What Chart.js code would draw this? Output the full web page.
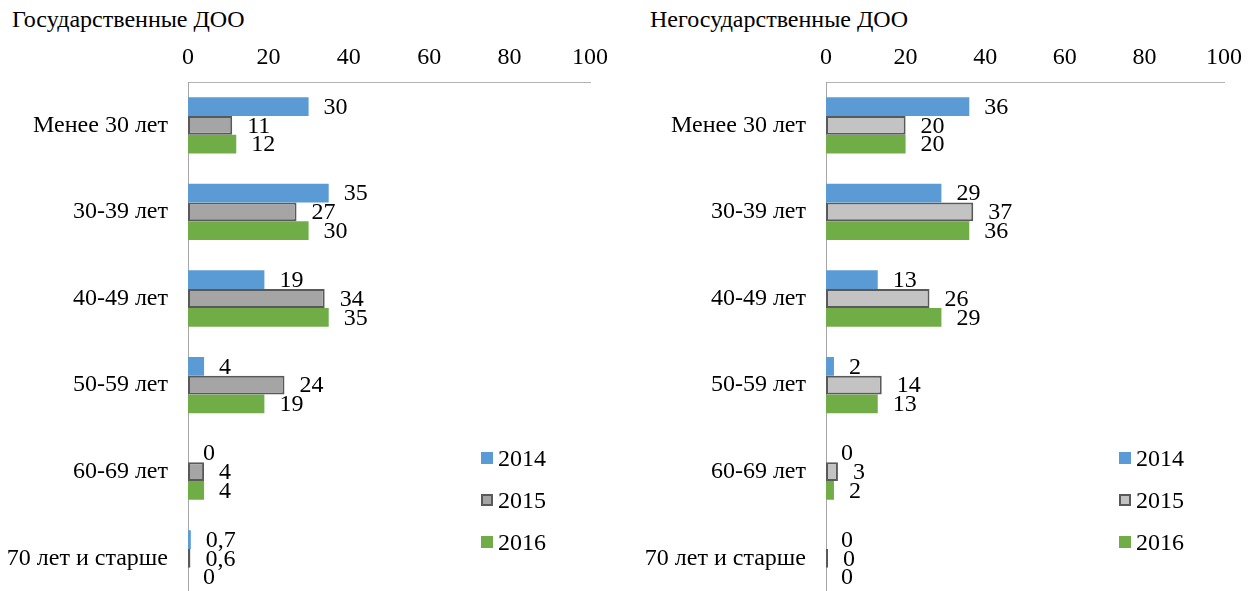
<!DOCTYPE html>
<html>
<head>
<meta charset="utf-8">
<script src="https://cdn.jsdelivr.net/npm/chart.js@4.4.1/dist/chart.umd.min.js"></script>
<style>
  html, body { margin: 0; padding: 0; background: #fff; overflow: hidden; }
  body { width: 1252px; height: 591px; position: relative; font-family: "Liberation Serif", "Times New Roman", serif; }
  canvas { position: absolute; top: 0; }
  #leftChart { left: 0; }
  #rightChart { left: 626px; }
  .title { position: absolute; top: 6px; font-size: 24px; color: #000; white-space: nowrap; }
  .legend { position: absolute; top: 437px; }
  .legend-row { display: flex; align-items: center; height: 42px; font-size: 24px; color: #000; }
  .legend-row i { display: inline-block; width: 12px; height: 12px; margin-right: 5px; box-sizing: border-box; }
</style>
</head>
<body>
<div class="title" style="left:12px">Государственные ДОО</div>
<div class="title" style="left:650px">Негосударственные ДОО</div>
<canvas id="leftChart" width="626" height="636"></canvas>
<canvas id="rightChart" width="626" height="636"></canvas>
<div class="legend" id="leftLegend" style="left:481px"></div>
<div class="legend" id="rightLegend" style="left:1119px"></div>
<script>
const categories = ['Менее 30 лет', '30-39 лет', '40-49 лет', '50-59 лет', '60-69 лет', '70 лет и старше'];
const years = ['2014', '2015', '2016'];
const xTicks = [0, 20, 40, 60, 80, 100];

// Государственные ДОО
const gos2014 = [30, 35, 19, 4, 0, 0.7];
const gos2015 = [11, 27, 34, 24, 4, 0.6];
const gos2016 = [12, 30, 35, 19, 4, 0];

// Негосударственные ДОО
const negos2014 = [36, 29, 13, 2, 0, 0];
const negos2015 = [20, 37, 26, 14, 3, 0];
const negos2016 = [20, 36, 29, 13, 2, 0];

const FONT = '"Liberation Serif", "Times New Roman", serif';
const BLUE = '#5b9bd5';
const GREEN = '#70ad47';
const BORDER = '#595959';

const valueLabels = {
  id: 'valueLabels',
  afterDatasetsDraw(chart) {
    const ctx = chart.ctx;
    ctx.save();
    ctx.font = '24px ' + FONT;
    ctx.fillStyle = '#000';
    ctx.textAlign = 'left';
    ctx.textBaseline = 'middle';
    chart.data.datasets.forEach((ds, i) => {
      chart.getDatasetMeta(i).data.forEach((bar, j) => {
        const text = String(ds.data[j]).replace('.', ',');
        ctx.fillText(text, bar.x + 15, bar.y + 1);
      });
    });
    ctx.restore();
  },
};

function makeChart(id, series, grayFill, axisWidth, rightPad) {
  const fills = [BLUE, grayFill, GREEN];
  return new Chart(document.getElementById(id), {
    type: 'bar',
    data: {
      labels: categories,
      datasets: years.map((year, i) => ({
        label: year,
        data: series[i],
        backgroundColor: fills[i],
        borderColor: i === 1 ? BORDER : fills[i],
        borderWidth: i === 1 ? 2 : 0,
        borderSkipped: false,
        minBarLength: i === 1 ? 2 : 0,
        categoryPercentage: 0.65,
        barPercentage: 1,
      })),
    },
    options: {
      indexAxis: 'y',
      responsive: false,
      animation: false,
      layout: { padding: { top: 0, right: rightPad, bottom: 2, left: 0 } },
      plugins: { legend: { display: false }, tooltip: { enabled: false } },
      scales: {
        x: {
          position: 'top',
          min: 0,
          max: 100,
          afterBuildTicks: (scale) => {
            scale.ticks = xTicks.map((v) => ({ value: v }));
          },
          afterFit: (scale) => {
            scale.height = 82;
          },
          grid: { display: false, drawTicks: false },
          border: { display: true, color: '#b3b3b3', width: 1 },
          ticks: { padding: 10, color: '#000', font: { family: FONT, size: 24 }, maxRotation: 0 },
        },
        y: {
          afterFit: (scale) => {
            scale.width = axisWidth;
          },
          grid: { display: false, drawTicks: false },
          border: { display: true, color: '#a6a6a6', width: 1 },
          ticks: { padding: 20, color: '#000', font: { family: FONT, size: 24 } },
        },
      },
    },
    plugins: [valueLabels],
  });
}

function buildLegend(id, grayFill) {
  const fills = [BLUE, grayFill, GREEN];
  document.getElementById(id).innerHTML = years
    .map((year, i) => {
      const border = i === 1 ? `border:2px solid ${BORDER};` : '';
      return `<div class="legend-row"><i style="background:${fills[i]};${border}"></i>${year}</div>`;
    })
    .join('');
}

makeChart('leftChart', [gos2014, gos2015, gos2016], '#a5a5a5', 188, 36);
makeChart('rightChart', [negos2014, negos2015, negos2016], '#c3c3c3', 200, 25);
buildLegend('leftLegend', '#a5a5a5');
buildLegend('rightLegend', '#c3c3c3');
</script>
</body>
</html>
